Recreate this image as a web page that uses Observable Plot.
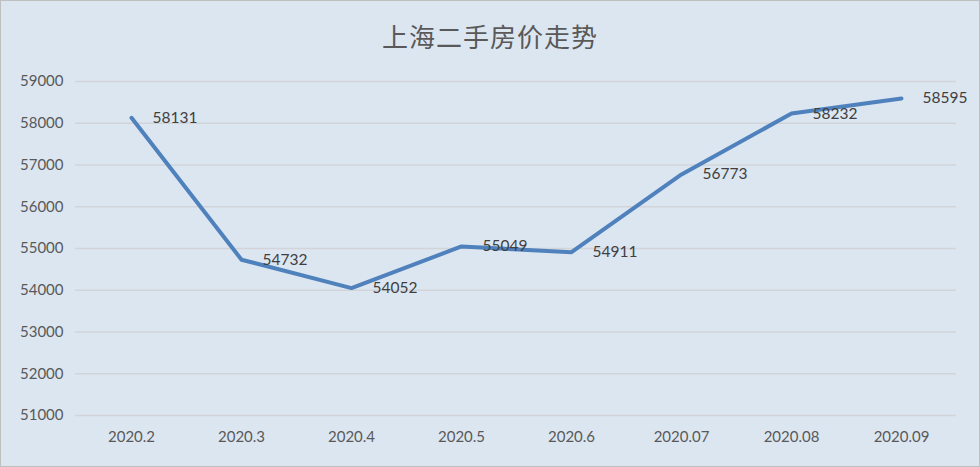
<!DOCTYPE html>
<html><head><meta charset="utf-8">
<script src="https://cdn.jsdelivr.net/npm/d3@7"></script>
<script src="https://cdn.jsdelivr.net/npm/@observablehq/plot@0.6"></script>
<style>
html,body{margin:0;padding:0;background:#fff;}
#wrap{position:relative;width:978px;height:465px;background:#dce6f1;border:1px solid #bfbfbf;overflow:hidden;}
#title{position:absolute;left:0;top:16px;width:978px;text-align:center;font-family:"Noto Sans CJK SC",sans-serif;font-size:26px;color:#595959;letter-spacing:1px;}
#chart{position:absolute;left:0;top:60px;}
</style></head>
<body>
<div id="wrap"><div id="title">上海二手房价走势</div><div id="chart"></div></div>
<script>
const months = ["2020.2","2020.3","2020.4","2020.5","2020.6","2020.07","2020.08","2020.09"];
const prices = [58131,54732,54052,55049,54911,56773,58232,58595];
const yTicks = [51000,52000,53000,54000,55000,56000,57000,58000,59000];
const data = months.map((m,i)=>({month:m, price:prices[i]}));
const chart = Plot.plot({
  width: 978, height: 405,
  marginLeft: 74, marginRight: 23, marginTop: 20, marginBottom: 51,
  style: {background:"transparent", fontFamily:"Lato, 'Open Sans', sans-serif", fontSize:"15px", color:"#595959"},
  x: {type:"point", domain: months, padding: 0.5, label: null, tickSize: 0, tickPadding: 16},
  y: {domain:[51000,59000], ticks: yTicks, tickFormat: d=>String(d), label: null, tickSize: 0, tickPadding: 12},
  marks: [
    Plot.gridY(yTicks, {stroke:"#d2d4d8", strokeOpacity:1, strokeWidth:1.5}),
    Plot.line(data, {x:"month", y:"price", stroke:"#4f81bd", strokeWidth:4, strokeLinejoin:"round", strokeLinecap:"round"}),
    Plot.text(data, {x:"month", y:"price", text: d=>String(d.price), textAnchor:"start", dx:21, fill:"#404040", fontSize:15.5})
  ]
});
document.getElementById("chart").appendChild(chart);
</script>
</body></html>
